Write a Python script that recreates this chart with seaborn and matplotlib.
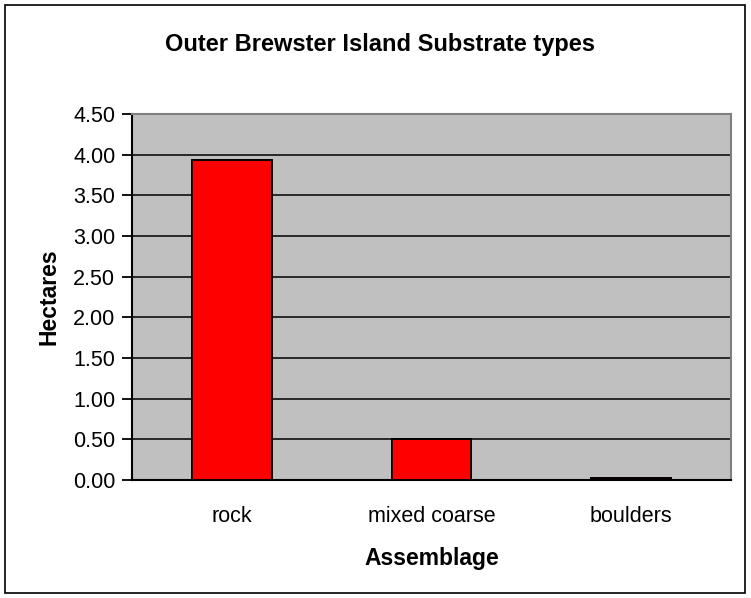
import matplotlib
matplotlib.use("Agg")
import matplotlib.pyplot as plt
import matplotlib.patches as mpatches
import seaborn as sns
import pandas as pd

categories = ["rock", "mixed coarse", "boulders"]
hectares = [3.93, 0.51, 0.02]
y_ticks = [0.0, 0.5, 1.0, 1.5, 2.0, 2.5, 3.0, 3.5, 4.0, 4.5]

sns.set_style("white")
plt.rcParams["font.family"] = ["Liberation Sans", "DejaVu Sans"]
plt.rcParams["text.color"] = "black"
plt.rcParams["axes.labelcolor"] = "black"
plt.rcParams["xtick.color"] = "black"
plt.rcParams["ytick.color"] = "black"

df = pd.DataFrame({"Assemblage": categories, "Hectares": hectares})

W, H = 751, 598
fig = plt.figure(figsize=(W / 100, H / 100), dpi=100)
ax = fig.add_axes([132 / W, 1 - 480 / H, (731 - 132) / W, (480 - 114) / H])

sns.barplot(data=df, x="Assemblage", y="Hectares", color="#ff0000",
            width=0.4, edgecolor="black", linewidth=1.4, saturation=1,
            ax=ax, zorder=3)

ax.set_facecolor("#c0c0c0")
ax.set_ylim(0, 4.5)
ax.set_xlim(-0.5, 2.5)
ax.set_yticks(y_ticks)
ax.set_yticklabels([f"{v:.2f}" for v in y_ticks], fontsize=15.5)
ax.yaxis.grid(True, color="black", linewidth=1.1, zorder=1)
ax.set_axisbelow(True)

# category labels centred, ticks on category boundaries
ax.set_xticks([0, 1, 2])
ax.set_xticklabels(categories, fontsize=15.5)
ax.tick_params(axis="x", length=0, pad=19)
ax.set_xticks([-0.5, 0.5, 1.5, 2.5], minor=True)
ax.tick_params(axis="x", which="minor", length=5, width=1.3, color="black", direction="out")
ax.tick_params(axis="y", length=7, width=1.3, color="black", direction="out", pad=5, left=True)

for side in ("left", "bottom"):
    ax.spines[side].set_color("black")
    ax.spines[side].set_linewidth(1.5)
for side in ("top", "right"):
    ax.spines[side].set_visible(True)
    ax.spines[side].set_color("#808080")
    ax.spines[side].set_linewidth(1.5)

ax.set_xlabel("Assemblage", fontsize=16.5, fontweight="bold", labelpad=14)
ax.set_ylabel("Hectares", fontsize=16.5, fontweight="bold", labelpad=9)

fig.text(380 / W, 1 - 44 / H, "Outer Brewster Island Substrate types",
         ha="center", va="center", fontsize=17, fontweight="bold")

# outer chart frame
fig.patches.append(mpatches.Rectangle((5 / W, 5 / H), (745 - 5) / W, (593 - 5) / H,
                                      transform=fig.transFigure, fill=False,
                                      edgecolor="black", linewidth=1.2))

fig.savefig("out.png", dpi=100)
